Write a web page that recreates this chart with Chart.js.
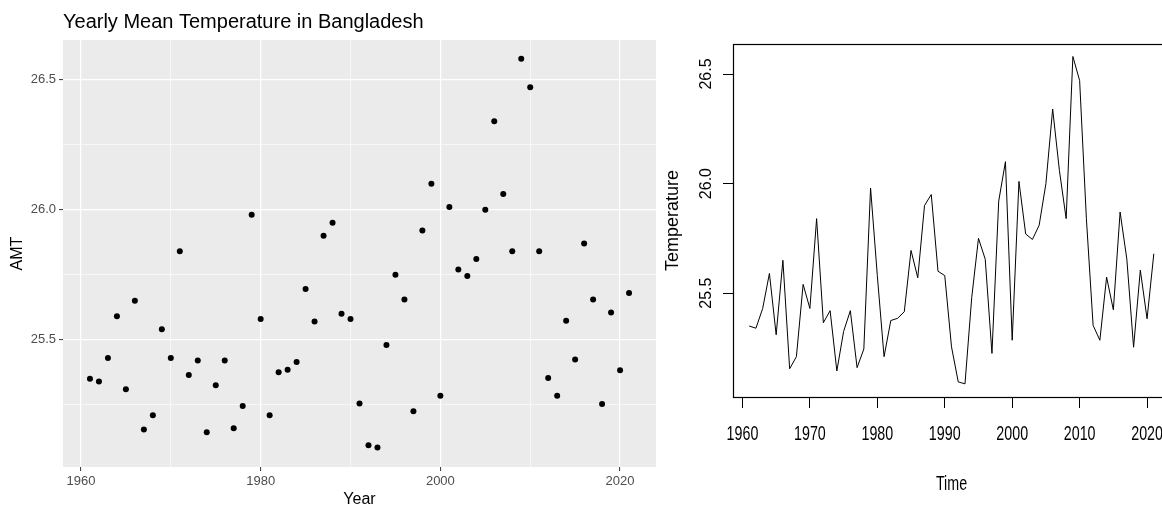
<!DOCTYPE html>
<html>
<head>
<meta charset="utf-8">
<title>Yearly Mean Temperature in Bangladesh</title>
<script src="https://cdn.jsdelivr.net/npm/chart.js@4/dist/chart.umd.min.js"></script>
<style>
  html, body { margin: 0; padding: 0; background: #fff; overflow: hidden; }
  #left { position: absolute; left: 0; top: 0; }
  #right { position: absolute; left: 660px; top: 0; }
</style>
</head>
<body>
<canvas id="left" width="660" height="509"></canvas>
<canvas id="right" width="520" height="509"></canvas>
<script>
// yearly mean temperature
const years = [1961, 1962, 1963, 1964, 1965, 1966, 1967, 1968, 1969, 1970,
               1971, 1972, 1973, 1974, 1975, 1976, 1977, 1978, 1979, 1980,
               1981, 1982, 1983, 1984, 1985, 1986, 1987, 1988, 1989, 1990,
               1991, 1992, 1993, 1994, 1995, 1996, 1997, 1998, 1999, 2000,
               2001, 2002, 2003, 2004, 2005, 2006, 2007, 2008, 2009, 2010,
               2011, 2012, 2013, 2014, 2015, 2016, 2017, 2018, 2019, 2020, 2021];
const amt = [25.35, 25.34, 25.43, 25.59, 25.31, 25.65, 25.155, 25.21, 25.54, 25.43,
             25.84, 25.365, 25.42, 25.145, 25.325, 25.42, 25.16, 25.245, 25.98, 25.58,
             25.21, 25.375, 25.385, 25.415, 25.695, 25.57, 25.90, 25.95, 25.60, 25.58,
             25.255, 25.095, 25.086, 25.48, 25.75, 25.655, 25.225, 25.92, 26.10, 25.285,
             26.01, 25.77, 25.745, 25.81, 26.00, 26.34, 26.06, 25.84, 26.58, 26.47,
             25.84, 25.353, 25.285, 25.573, 25.424, 25.87, 25.655, 25.253, 25.605, 25.383, 25.68];

const leftXTicks = [1960, 1970, 1980, 1990, 2000, 2010, 2020];
const leftYTicks = [25.25, 25.5, 25.75, 26.0, 26.25, 26.5];
const rightXTicks = [1960, 1970, 1980, 1990, 2000, 2010, 2020];
const rightYTicks = [25.5, 26.0, 26.5];

const points = years.map((y, i) => ({ x: y, y: amt[i] }));

const sans = "'Liberation Sans', Arial, sans-serif";

// grey panel + title for the ggplot side
const ggPanel = {
  id: 'ggPanel',
  beforeDraw(chart) {
    const { ctx, chartArea: a } = chart;
    ctx.save();
    ctx.fillStyle = '#EBEBEB';
    ctx.fillRect(a.left, a.top, a.right - a.left, a.bottom - a.top);
    ctx.restore();
  },
  afterDraw(chart) {
    const { ctx, chartArea: a } = chart;
    ctx.save();
    ctx.fillStyle = '#000';
    ctx.font = '20px ' + sans;
    ctx.textBaseline = 'alphabetic';
    ctx.fillText('Yearly Mean Temperature in Bangladesh', a.left, 28);
    ctx.restore();
  }
};

// box round the plot region, plus the squeezed x labels of the base R side
const plotBox = {
  id: 'plotBox',
  afterDraw(chart) {
    const { ctx, chartArea: a } = chart;
    const xs = chart.scales.x;
    ctx.save();
    ctx.strokeStyle = '#000';
    ctx.lineWidth = 1.2;
    ctx.strokeRect(a.left + 0.5, a.top + 0.5, a.right - a.left, a.bottom - a.top);

    ctx.fillStyle = '#000';
    ctx.font = '21px ' + sans;
    ctx.textAlign = 'center';
    ctx.textBaseline = 'middle';
    const squeeze = (text, x, y) => {
      ctx.save();
      ctx.translate(x, y);
      ctx.scale(0.68, 1);
      ctx.fillText(text, 0, 0);
      ctx.restore();
    };
    xs.ticks.forEach(t => squeeze(String(t.value), xs.getPixelForValue(t.value), 434));
    squeeze('Time', (a.left + a.right) / 2, 484);
    ctx.restore();
  }
};

const isMajor = v => v % 20 === 0;
const isMajorY = v => Math.abs((v * 2) - Math.round(v * 2)) < 1e-6;

new Chart(document.getElementById('left'), {
  type: 'scatter',
  data: {
    datasets: [{
      data: points,
      backgroundColor: '#000',
      borderColor: '#000',
      pointRadius: 3,
      pointHoverRadius: 3,
      borderWidth: 0
    }]
  },
  options: {
    responsive: false,
    animation: false,
    layout: { padding: { top: 40, right: 4, left: 0, bottom: 0 } },
    plugins: { legend: { display: false }, tooltip: { enabled: false } },
    scales: {
      x: {
        type: 'linear',
        min: 1958,
        max: 2024,
        afterBuildTicks: s => { s.ticks = leftXTicks.map(v => ({ value: v })); },
        afterFit: s => { s.height = 42; },
        ticks: {
          autoSkip: false,
          maxRotation: 0,
          padding: 3,
          color: '#4D4D4D',
          font: { family: sans, size: 13 },
          callback: v => isMajor(v) ? String(v) : ''
        },
        grid: {
          color: '#fff',
          lineWidth: c => (c.tick && isMajor(c.tick.value)) ? 1.2 : 0.6,
          tickLength: 4,
          tickWidth: 1,
          tickColor: c => (c.tick && isMajor(c.tick.value)) ? '#333' : 'rgba(0,0,0,0)'
        },
        border: { display: false },
        title: { display: true, text: 'Year', color: '#000', font: { family: sans, size: 16 }, padding: 0 }
      },
      y: {
        type: 'linear',
        min: 25.011,
        max: 26.652,
        afterBuildTicks: s => { s.ticks = leftYTicks.map(v => ({ value: v })); },
        afterFit: s => { s.width = 63; },
        ticks: {
          autoSkip: false,
          padding: 3,
          color: '#4D4D4D',
          font: { family: sans, size: 13 },
          callback: v => isMajorY(v) ? v.toFixed(1) : ''
        },
        grid: {
          color: '#fff',
          lineWidth: c => (c.tick && isMajorY(c.tick.value)) ? 1.2 : 0.6,
          tickLength: 4,
          tickWidth: 1,
          tickColor: c => (c.tick && isMajorY(c.tick.value)) ? '#333' : 'rgba(0,0,0,0)'
        },
        border: { display: false },
        title: { display: true, text: 'AMT', color: '#000', font: { family: sans, size: 16 }, padding: { top: 8, bottom: 0 } }
      }
    }
  },
  plugins: [ggPanel]
});

new Chart(document.getElementById('right'), {
  type: 'scatter',
  data: {
    datasets: [{
      data: points,
      showLine: true,
      borderColor: '#000',
      borderWidth: 1,
      pointRadius: 0,
      pointHoverRadius: 0,
      tension: 0
    }]
  },
  options: {
    responsive: false,
    animation: false,
    layout: { padding: { top: 44, right: 10, left: 0, bottom: 0 } },
    plugins: { legend: { display: false }, tooltip: { enabled: false } },
    scales: {
      x: {
        type: 'linear',
        min: 1958.6,
        max: 2023.4,
        afterBuildTicks: s => { s.ticks = rightXTicks.map(v => ({ value: v })); },
        afterFit: s => { s.height = 112; },
        ticks: { display: false },
        grid: {
          drawOnChartArea: false,
          drawTicks: true,
          tickLength: 11,
          tickWidth: 1,
          tickColor: '#000'
        },
        border: { display: false },
        title: { display: false }
      },
      y: {
        type: 'linear',
        min: 25.026,
        max: 26.637,
        afterBuildTicks: s => { s.ticks = rightYTicks.map(v => ({ value: v })); },
        afterFit: s => { s.width = 73; },
        ticks: {
          autoSkip: false,
          minRotation: 90,
          maxRotation: 90,
          crossAlign: 'center',
          padding: 1,
          color: '#000',
          font: { family: sans, size: 16 },
          callback: v => v.toFixed(1)
        },
        grid: {
          drawOnChartArea: false,
          tickLength: 10,
          tickWidth: 1,
          tickColor: '#000'
        },
        border: { display: false },
        title: { display: true, text: 'Temperature', color: '#000', font: { family: sans, size: 18 }, padding: { top: 2, bottom: 0 } }
      }
    }
  },
  plugins: [plotBox]
});
</script>
</body>
</html>
